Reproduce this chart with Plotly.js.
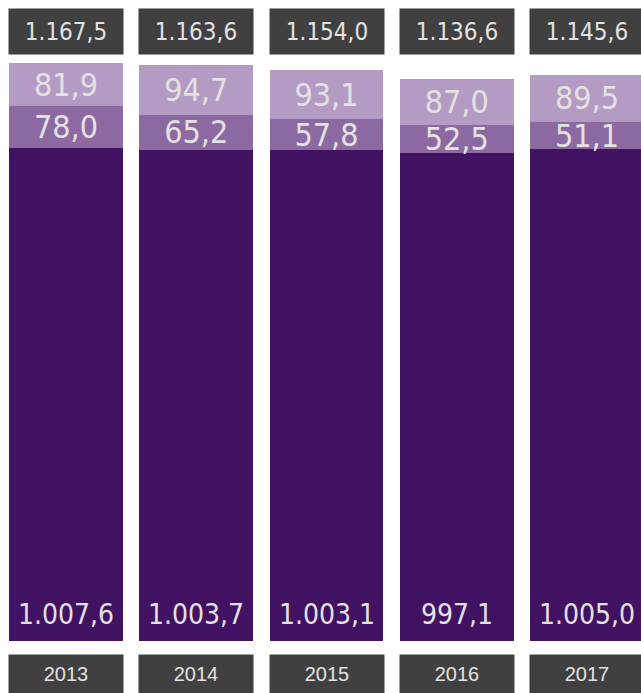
<!DOCTYPE html>
<html><head><meta charset="utf-8">
<script src="https://cdn.plot.ly/plotly-3.0.1.min.js"></script>
<style>html,body{margin:0;padding:0;background:#fff;}#chart{width:641px;height:693px;}</style>
</head><body><div id="chart"></div>
<script>
const years = ['2013','2014','2015','2016','2017'];
const base = [1007.6, 1003.7, 1003.1, 997.1, 1005.0];
const middle = [78.0, 65.2, 57.8, 52.5, 51.1];
const top_ = [81.9, 94.7, 93.1, 87.0, 89.5];
const totals = years.map((_, i) => Math.round((base[i] + middle[i] + top_[i]) * 10) / 10);

const Y0 = 76.3;            // visible start of the value axis
const PXU = 0.5297;         // pixels per unit
const labelFont = 'DejaVu Sans Condensed, Liberation Sans Narrow, sans-serif';
const txtColor = '#e2e2e2';

function seg(vals, color, withText) {
  return {
    type: 'bar', x: years, y: vals,
    marker: {color: color, line: {width: 0}},
    texttemplate: withText ? '%{y:,.1f}' : '',
    textposition: withText ? 'inside' : 'none',
    insidetextanchor: 'middle',
    constraintext: 'none',
    textangle: 0,
    textfont: {family: labelFont, size: 32, color: txtColor},
    hoverinfo: 'skip'
  };
}

const data = [
  seg(base, '#421262', false),
  seg(middle, '#8c69a0', true),
  seg(top_, '#b39bc3', true)
];

const fmt = v => {
  const s = v.toFixed(1).split('.');
  const intp = s[0].replace(/\B(?=(\d{3})+(?!\d))/g, '.');
  return intp + ',' + s[1];
};

const annotations = [];
years.forEach((yr, i) => {
  annotations.push({
    x: i, xref: 'x', y: 1 - 31.5 / 641, yref: 'paper',
    text: fmt(totals[i]), showarrow: false,
    bgcolor: '#404040', width: 114, height: 45, borderpad: 0,
    xanchor: 'center', yanchor: 'middle',
    font: {family: labelFont, size: 24, color: txtColor}
  });
  annotations.push({
    x: i, xref: 'x', y: Y0, yref: 'y',
    text: fmt(base[i]), showarrow: false,
    xanchor: 'center', yanchor: 'bottom', yshift: 8,
    font: {family: labelFont, size: 28, color: txtColor}
  });
  annotations.push({
    x: i, xref: 'x', y: -33 / 641, yref: 'paper',
    text: yr, showarrow: false,
    bgcolor: '#404040', width: 114, height: 38, borderpad: 0,
    xanchor: 'center', yanchor: 'middle',
    font: {family: 'Liberation Sans, Arial, sans-serif', size: 20, color: txtColor}
  });
});

const layout = {
  width: 641, height: 693,
  margin: {l: 0, r: 0, t: 0, b: 52, pad: 0},
  paper_bgcolor: '#ffffff', plot_bgcolor: '#ffffff',
  barmode: 'stack', bargap: 0.125,
  separators: ',.',
  showlegend: false,
  xaxis: {type: 'category', range: [-0.5067, 4.4146], showticklabels: false, showgrid: false, zeroline: false, showline: false, ticks: ''},
  yaxis: {range: [Y0, Y0 + 641 / PXU], showticklabels: false, showgrid: false, zeroline: false, showline: false, ticks: ''},
  annotations: annotations
};

Plotly.newPlot('chart', data, layout, {displayModeBar: false, staticPlot: true});
</script>
</body></html>
